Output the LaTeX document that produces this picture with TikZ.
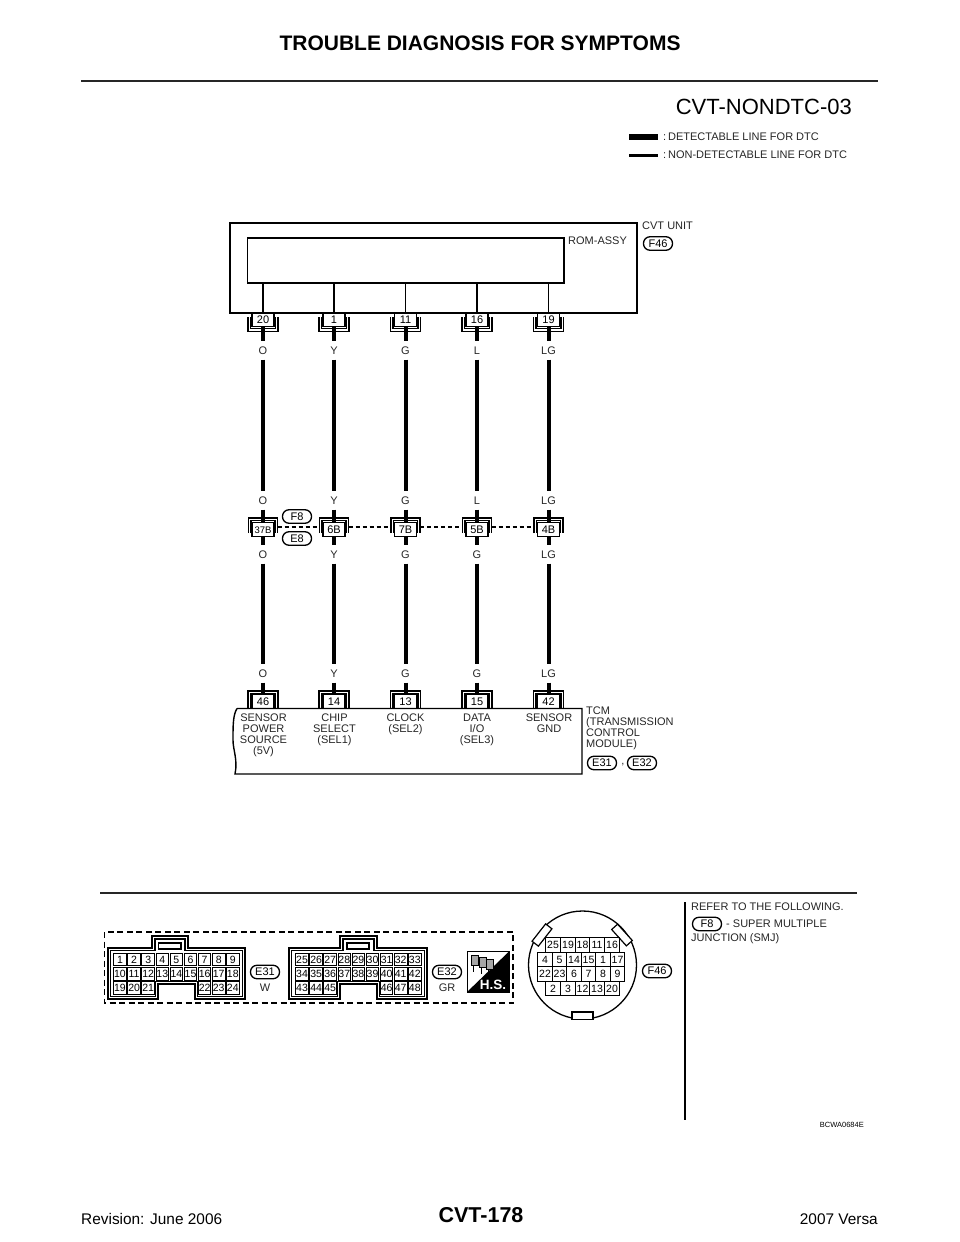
\documentclass[tikz,border=0pt]{standalone}
\usepackage{fontspec}
\setmainfont{Liberation Sans}
\newcommand{\fsz}[1]{\fontsize{#1}{#1}\selectfont}
\tikzset{
 x=1pt,y=-1pt,
 lbl/.style={inner sep=0pt,minimum height=18pt,text height=8pt,text depth=0pt,font=\fsz{11},text=black!85},
 pinbox/.style={draw,line width=1.3pt,minimum width=22pt,minimum height=14pt,text height=7.6pt,text depth=0pt,inner sep=0pt,font=\fsz{11}},
 pill/.style={draw,line width=1.3pt,rounded corners=6.5pt,minimum width=29pt,minimum height=13.5pt,text height=7.6pt,text depth=0pt,inner sep=0pt,font=\fsz{11}},
 txt/.style={inner sep=0pt,font=\fsz{11},text=black!85,align=left,anchor=north west},
 ctr/.style={inner sep=0pt,font=\fsz{11},text=black!85,align=center,anchor=north},
 wire/.style={line width=4pt},
 thinw/.style={line width=1.3pt},
 brk/.style={line width=1.2pt},
 cell/.style={draw,line width=.9pt,minimum width=12.6pt,minimum height=12.6pt,text height=7.4pt,text depth=0pt,inner sep=0pt,font=\fsz{10.5}},
 cellb/.style={draw,line width=1pt,minimum width=14.4pt,minimum height=14.4pt,text height=7.4pt,text depth=0pt,inner sep=0pt,font=\fsz{10.5}},
}
\begin{document}
\begin{tikzpicture}
\useasboundingbox (0,0) rectangle (960,1242);
% header and footer
\node[inner sep=0pt,font=\fsz{21}\bfseries] (title) at (480,43) {TROUBLE DIAGNOSIS FOR SYMPTOMS};
\draw[line width=2.2pt,black!85] (81,81) -- (878,81);
\node[inner sep=0pt,anchor=east,font=\fsz{22}] (code) at (852,107) {CVT-NONDTC-03};
\node[inner sep=0pt,anchor=west,font=\fsz{15.4}] (rev) at (81,1219) {Revision: June 2006};
\node[inner sep=0pt,font=\fsz{21.5}\bfseries] (page) at (481,1215) {CVT-178};
\node[inner sep=0pt,anchor=east,font=\fsz{15.4}] (ver) at (878,1219) {2007 Versa};
% legend
\draw[line width=5.4pt] (629,137) -- (658,137);
\draw[line width=3pt] (629,155) -- (658,155);
\node[txt,anchor=west] (lg1) at (663,137) {:\,DETECTABLE LINE FOR DTC};
\node[txt,anchor=west] (lg2) at (663,155) {:\,NON-DETECTABLE LINE FOR DTC};
% CVT unit
\draw[line width=1.4pt] (230,223) rectangle (637,313);
\node[draw,line width=1.4pt,minimum width=316.5pt,minimum height=45pt,inner sep=0pt] (rom) at (405.7,260.5) {};
\node[txt,anchor=west] (romt) at (568,241) {ROM-ASSY};
\node[txt,anchor=west] (cvtt) at (642,226) {CVT UNIT};
\node[pill] (pf46) at (658,243.5) {F46};
% pins
\foreach \i/\x/\ta/\la/\lb/\lc/\ld/\mid/\bot in {
 1/263/20/O/O/O/O/37B/46,
 2/334/1/Y/Y/Y/Y/6B/14,
 3/405.5/11/G/G/G/G/7B/13,
 4/477/16/L/L/G/G/5B/15,
 5/548.5/19/LG/LG/LG/LG/4B/42}{
  \node[pinbox] (t\i) at (\x,319.5) {\ta};
  \node[lbl] (la\i) at (\x,350.5) {\la};
  \node[lbl] (lb\i) at (\x,500.5) {\lb};
  \node[pinbox] (m\i) at (\x,529.5) {\fsz{\ifnum\i=1 9.5\else 11\fi}\mid};
  \node[lbl] (lc\i) at (\x,554.5) {\lc};
  \node[lbl] (ld\i) at (\x,673.5) {\ld};
  \node[pinbox] (b\i) at (\x,701.5) {\bot};
  \draw[thinw] (\x,283) -- (t\i.north);
  \draw[wire] (t\i.south) -- (la\i);
  \draw[wire] (la\i) -- (lb\i);
  \draw[wire] (lb\i) -- (m\i.north);
  \draw[wire] (m\i.south) -- (lc\i);
  \draw[wire] (lc\i) -- (ld\i);
  \draw[wire] (ld\i) -- (b\i.north);
  % brackets
  \draw[brk] (\x-15,317) -- (\x-15,331.5) -- (\x+15,331.5) -- (\x+15,317);
  \draw[brk] (\x-12.5,317) -- (\x-12.5,328.5) -- (\x+12.5,328.5) -- (\x+12.5,317);
  \draw[brk] (\x-14.5,533) -- (\x-14.5,518) -- (\x+14.5,518) -- (\x+14.5,533);
  \draw[brk] (\x-12,533) -- (\x-12,520.5) -- (\x+12,520.5) -- (\x+12,533);
  \draw[brk] (\x-15,708) -- (\x-15,691) -- (\x+15,691) -- (\x+15,708);
  \draw[brk] (\x-12.5,708) -- (\x-12.5,693.5) -- (\x+12.5,693.5) -- (\x+12.5,708);
}
% shared connector
\foreach \a/\b in {1/2,2/3,3/4,4/5}{
  \draw[line width=1.2pt,dash pattern=on 4pt off 3pt] ([xshift=3pt,yshift=2.5pt]m\a.east) -- ([xshift=-3pt,yshift=2.5pt]m\b.west);
}
\node[pill] (pf8) at (297,516.5) {F8};
\node[pill] (pe8) at (297,538.5) {E8};
% TCM
\draw[line width=1.4pt] (237,708.5) -- (582,708.5) -- (582,774) -- (235,774)
  .. controls (238,760) and (233,750) .. (233,740) .. controls (233,725) and (233,715) .. (237,708.5);
\node[ctr] (s1) at (263.5,714) {SENSOR\\POWER\\SOURCE\\(5V)};
\node[ctr] (s2) at (334.5,714) {CHIP\\SELECT\\(SEL1)};
\node[ctr] (s3) at (405.5,714) {CLOCK\\(SEL2)};
\node[ctr] (s4) at (477,714) {DATA\\I/O\\(SEL3)};
\node[ctr] (s5) at (549,714) {SENSOR\\GND};
\node[txt] (tcm) at (586,707) {TCM\\(TRANSMISSION\\CONTROL\\MODULE)};
\node[pill] (pe31) at (602,763) {E31};
\node[txt,anchor=center] (comma) at (623,765) {,};
\node[pill] (pe32) at (642,763) {E32};
% lower part
\draw[line width=1.5pt,black!85] (100,893) -- (857,893);
\draw[line width=2pt] (685,902) -- (685,1120);
\draw[line width=1.4pt,dash pattern=on 6pt off 3.5pt] (104.5,932) rectangle (513,1003);
% E31 connector
\draw[line width=1.4pt] (108,948) -- (152,948) -- (152,936) -- (188,936) -- (188,948) -- (245,948) -- (245,999) -- (195,999) -- (195,984) -- (158,984) -- (158,999) -- (108,999) -- cycle;
\draw[line width=1.1pt] (110.5,950.5) -- (155,950.5) -- (155,939) -- (185,939) -- (185,950.5) -- (242.5,950.5) -- (242.5,996.5) -- (197.5,996.5) -- (197.5,981.5) -- (155.5,981.5) -- (155.5,996.5) -- (110.5,996.5) -- cycle;
\draw[line width=1.5pt] (158.5,943) rectangle (181,949);
\foreach \t/\c/\r in {1/0/0,2/1/0,3/2/0,4/3/0,5/4/0,6/5/0,7/6/0,8/7/0,9/8/0,
 10/0/1,11/1/1,12/2/1,13/3/1,14/4/1,15/5/1,16/6/1,17/7/1,18/8/1,
 19/0/2,20/1/2,21/2/2,22/6/2,23/7/2,24/8/2}{
  \node[cell] (a\t) at (120+14.1*\c,959.5+14.2*\r) {\t};
}
\node[pill] (pe31b) at (265,972) {E31};
\node[inner sep=0pt,font=\fsz{11},text=black!85] (w) at (265,988) {W};
% E32 connector
\draw[line width=1.4pt] (289,948) -- (340,948) -- (340,936) -- (377,936) -- (377,948) -- (427,948) -- (427,999) -- (377,999) -- (377,984) -- (340,984) -- (340,999) -- (289,999) -- cycle;
\draw[line width=1.1pt] (291.5,950.5) -- (343,950.5) -- (343,939) -- (374,939) -- (374,950.5) -- (424.5,950.5) -- (424.5,996.5) -- (379.5,996.5) -- (379.5,981.5) -- (337.5,981.5) -- (337.5,996.5) -- (291.5,996.5) -- cycle;
\draw[line width=1.5pt] (347,943) rectangle (369,949);
\foreach \t/\c/\r in {25/0/0,26/1/0,27/2/0,28/3/0,29/4/0,30/5/0,31/6/0,32/7/0,33/8/0,
 34/0/1,35/1/1,36/2/1,37/3/1,38/4/1,39/5/1,40/6/1,41/7/1,42/8/1,
 43/0/2,44/1/2,45/2/2,46/6/2,47/7/2,48/8/2}{
  \node[cell] (a\t) at (302+14.1*\c,959.5+14.2*\r) {\t};
}
\node[pill] (pe32b) at (447,972) {E32};
\node[inner sep=0pt,font=\fsz{11},text=black!85] (gr) at (447,988) {GR};
% H.S. mark
\draw[line width=1pt] (467,951.5) rectangle (509,992);
\fill[black] (509,951.5) -- (509,992) -- (467,992) -- cycle;
\node[inner sep=0pt,font=\fsz{13.5}\bfseries,text=white] (hs) at (493,985) {H.S.};
\foreach \dx in {0,8,15}{
  \draw[line width=.8pt,fill=black!35] (471+\dx,955+.3*\dx) rectangle (478+\dx,965+.3*\dx);
  \draw[line width=.8pt] (473+\dx,965+.3*\dx) -- (473+\dx,972+.3*\dx);
}
% F46 connector
\draw[line width=1.3pt] (582.5,965) circle[radius=54];
\draw[line width=1.2pt,fill=white,rotate around={52:(542,935)}] (531,931) rectangle (553,939);
\draw[line width=1.2pt,fill=white,rotate around={-48:(622,935)}] (611,931) rectangle (633,939);
\draw[line width=1.2pt,fill=white] (572,1012) rectangle (593,1019.5);
\foreach \t/\X/\Y in {25/553/945,19/568/945,18/582.5/945,11/597/945,16/612/945,
 4/545/959.5,5/559.5/959.5,14/574/959.5,15/588.5/959.5,1/603/959.5,17/617.5/959.5,
 22/545/974,23/559.5/974,6/574/974,7/588.5/974,8/603/974,9/617.5/974,
 2/553/988.5,3/568/988.5,12/582.5/988.5,13/597/988.5,20/612/988.5}{
  \node[cellb] (f\t) at (\X,\Y) {\t};
}
\node[pill] (pf46b) at (657,971) {F46};
% note
\node[txt,anchor=west] (n1) at (691,907) {REFER TO THE FOLLOWING.};
\node[pill] (pf8b) at (707,924) {F8};
\node[txt,anchor=west] (n2) at (726,924) {- SUPER MULTIPLE};
\node[txt,anchor=west] (n3) at (691,938.5) {JUNCTION (SMJ)};
\node[inner sep=0pt,anchor=east,font=\fsz{7.5}] (bc) at (864,1125) {BCWA0684E};
\end{tikzpicture}
\end{document}
